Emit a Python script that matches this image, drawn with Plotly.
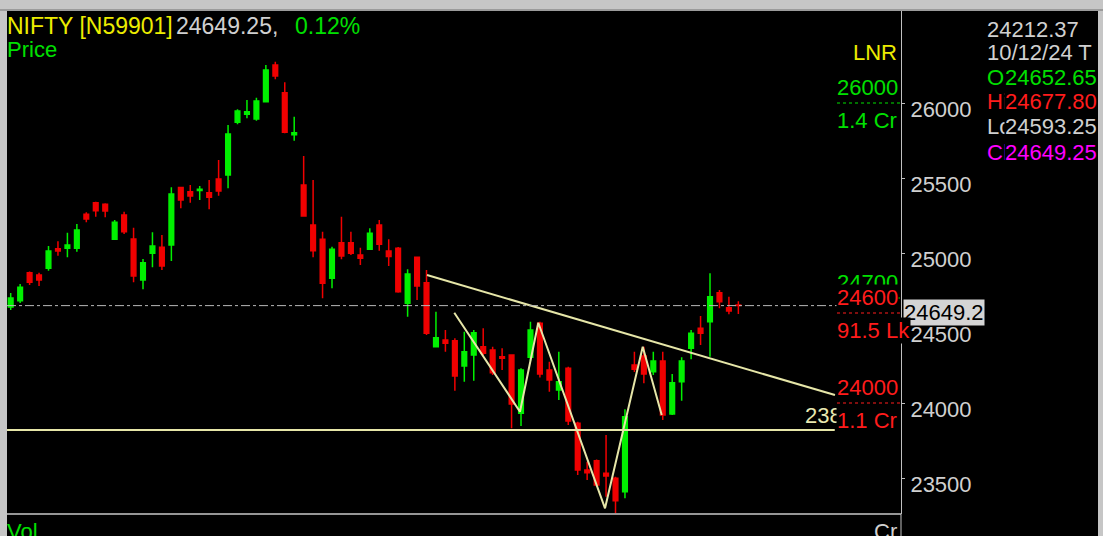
import plotly.graph_objects as go

# ---------------- data ----------------
opens = [24640, 24682, 24869, 24853, 24898, 25029, 25031, 25031, 25258, 25335,
         25325, 25092, 25253, 25093, 24820, 24998, 25038, 25053, 25436, 25409,
         25416, 25402, 25493, 25520, 25871, 25925, 25893, 26009, 26253, 26069,
         25789, 25453, 25187, 25091, 24831, 25069, 25069, 24987, 25025, 25187,
         25013, 25031, 24665, 24971, 24802, 24375, 24420, 24415, 24247, 24320,
         24375, 24353, 24309, 24320, 23931, 24305, 24531, 24220, 24087, 24231,
         23865, 23553, 23615, 23531, 23498, 23409, 24253, 24313, 24209, 24280,
         23927, 24142, 24365, 24498, 24542, 24735, 24635, 24652.65]
highs = [24733, 24793, 24876, 24869, 25047, 25078, 25135, 25193, 25271, 25342,
         25331, 25220, 25275, 25169, 24960, 25138, 25120, 25438, 25442, 25453,
         25447, 25487, 25620, 25853, 25958, 26020, 26035, 26253, 26275, 26138,
         25909, 25647, 25487, 25142, 25042, 25242, 25142, 25035, 25165, 25220,
         25091, 25040, 24891, 24976, 24887, 24609, 24487, 24431, 24475, 24487,
         24498, 24375, 24365, 24325, 24231, 24542, 24542, 24275, 24342, 24242,
         23875, 23609, 23624, 23787, 23509, 23958, 24342, 24375, 24342, 24342,
         24193, 24305, 24487, 24580, 24865, 24753, 24709, 24677.80]
lows = [24620, 24667, 24787, 24780, 24882, 24982, 24971, 25009, 25205, 25242,
        25238, 25087, 25127, 24805, 24758, 24905, 24887, 24947, 25298, 25335,
        25353, 25291, 25382, 25431, 25858, 25898, 25882, 26005, 26158, 25798,
        25749, 25242, 24971, 24698, 24765, 24958, 24987, 24920, 25020, 25015,
        24913, 24735, 24575, 24687, 24453, 24371, 24342, 24082, 24142, 24149,
        24320, 24187, 24220, 23831, 23847, 24280, 24170, 24075, 24020, 23853,
        23520, 23487, 23442, 23375, 23265, 23365, 24207, 24131, 24187, 23887,
        23920, 24015, 24291, 24387, 24309, 24631, 24591, 24593.25]
closes = [24700, 24771, 24805, 24820, 25013, 25013, 25053, 25153, 25227, 25282,
          25280, 25205, 25142, 24847, 24935, 25047, 24913, 25393, 25353, 25380,
          25425, 25371, 25413, 25793, 25947, 25942, 26013, 26220, 26180, 25805,
          25802, 25247, 25015, 24798, 25025, 24980, 24998, 24965, 25131, 25058,
          24976, 24742, 24860, 24780, 24465, 24435, 24398, 24180, 24342, 24469,
          24331, 24202, 24298, 23993, 24220, 24487, 24193, 24153, 24142, 23880,
          23553, 23535, 23453, 23513, 23349, 23909, 24225, 24193, 24280, 23920,
          24135, 24280, 24465, 24465, 24709, 24675, 24613, 24649.25]
bar_index = list(range(len(opens)))

y_ticks = [23500, 24000, 24500, 25000, 25500, 26000]
y_tick_labels = [str(v) for v in y_ticks]

# LNR levels (price level, label colour, volume text)
lnr_levels = [26000, 24700, 24600, 24000]
lnr_colors = ["#00e000", "#00e000", "#ff1c1c", "#ff1c1c"]
lnr_volumes = ["1.4 Cr", "", "91.5 Lk", "1.1 Cr"]

# hand-drawn study lines
support_level = 23820
support_x = [-0.39, 87.2]
trend_x = [44.05, 87.22]
trend_y = [24853, 24053]
w_x = [46.94, 53.89, 55.83, 62.89, 66.88, 68.89]
w_y = [24602, 23942, 24535, 23298, 24375, 23920]

symbol = "NIFTY [N59901]"
last_change = "0.12%"
info_value = "24212.37"
info_date = "10/12/24 T"

# ---------------- layout helpers ----------------
W, H = 1103, 536
PL, PR, PT, PB = 7, 901, 11, 514
FONT = "Liberation Sans"
GRAY = "#d0d0d0"
YEL = "#ecec00"
GRN = "#00e000"
RED = "#ff1c1c"
LINEC = "#e6e6a8"


def px(x):
    return (x - PL) / (PR - PL)


def py(y):
    return (PB - y) / (PB - PT)


fig = go.Figure()

fig.add_trace(go.Candlestick(
    x=bar_index, open=opens, high=highs, low=lows, close=closes,
    increasing=dict(line=dict(color="#00f000", width=1.5), fillcolor="#00f000"),
    decreasing=dict(line=dict(color="#f00000", width=1.5), fillcolor="#f00000"),
    whiskerwidth=0, hoverinfo="skip", showlegend=False,
))

fig.add_trace(go.Scatter(x=support_x, y=[support_level, support_level], mode="lines",
                         line=dict(color=LINEC, width=2), hoverinfo="skip", showlegend=False))
fig.add_trace(go.Scatter(x=trend_x, y=trend_y, mode="lines",
                         line=dict(color=LINEC, width=2), hoverinfo="skip", showlegend=False))
fig.add_trace(go.Scatter(x=w_x, y=w_y, mode="lines",
                         line=dict(color=LINEC, width=2), hoverinfo="skip", showlegend=False))

shapes = [
    # black window area
    dict(type="rect", xref="paper", yref="paper", x0=px(PL), x1=px(1098), y0=py(536), y1=py(PT),
         fillcolor="black", line=dict(width=0), layer="below"),
    # darker line of the frame at the top
    dict(type="line", xref="paper", yref="paper", x0=px(0), x1=px(W), y0=py(10), y1=py(10),
         line=dict(color="#8c8c8c", width=1.5), layer="below"),
    # separator between price and volume panes
    dict(type="line", xref="paper", yref="paper", x0=0, x1=1, y0=0, y1=0,
         line=dict(color="#c8c8c8", width=1.5)),
    # axis line through the volume pane
    dict(type="line", xref="paper", yref="paper", x0=1, x1=1, y0=py(536), y1=0,
         line=dict(color="#c0c0c0", width=1)),
    # last price dash-dot line
    dict(type="line", xref="paper", yref="y", x0=0, x1=1, y0=closes[-1], y1=closes[-1],
         line=dict(color="#b8b8b8", width=1, dash="dashdot")),
]
for lv, col in zip(lnr_levels, lnr_colors):
    shapes.append(dict(type="line", xref="paper", yref="y", x0=px(837), x1=1, y0=lv, y1=lv,
                       line=dict(color=col, width=1, dash="dot")))

ann = []


def text(t, x, y, color, xanchor="left", yref="paper", yshift=0, bg=None, size=22, xref="paper"):
    d = dict(text=t, x=x, y=y, xref=xref, yref=yref, xanchor=xanchor, yanchor="middle",
             showarrow=False, yshift=yshift, font=dict(family=FONT, size=size, color=color),
             borderpad=0)
    if bg:
        d["bgcolor"] = bg
    ann.append(d)


# title line
text(symbol, px(6), py(26), YEL, size=23)
text(f"{closes[-1]:.2f},", px(175), py(26), GRAY, size=23)
text(last_change, px(294), py(26), GRN, size=23)
text("Price", px(6), py(50), GRN)

# LNR labels
text("LNR", px(898), py(52), YEL, xanchor="right")
for lv, col, vol in zip(lnr_levels, lnr_colors, lnr_volumes):
    text(str(lv), px(836), lv, col, yref="y", yshift=16, bg="black")

# last price box on the axis
last_trunc = int(closes[-1] * 10) / 10
text(f"{last_trunc:.1f}", px(903), closes[-1], "black", yref="y", yshift=-7, bg="#d4d4d4")

# support label, partly covered by the volume label
text(f"{support_level}", px(804), py(415), "#e8e8b0")

for lv, col, vol in zip(lnr_levels, lnr_colors, lnr_volumes):
    if vol:
        text(vol, px(836), lv, col, yref="y", yshift=-17, bg="black")

# right information panel
text(info_value, px(986), py(29), GRAY)
text(info_date, px(986), py(53), GRAY)
row_names = ["Op", "Hi", "Lo", "Cl"]
row_vals = [opens[-1], highs[-1], lows[-1], closes[-1]]
row_cols = [GRN, RED, GRAY, "#ff00ff"]
for k, (nm, val, col) in enumerate(zip(row_names, row_vals, row_cols)):
    yy = 77 + 25 * k
    text(nm, px(986), py(yy), col)
    text(f"{val:.2f}", px(1004), py(yy), col, bg="black")

# volume pane labels
text("Vol", px(6), py(531), GRN)
text("Cr", px(898), py(531), GRAY, xanchor="right")

fig.update_layout(
    width=W, height=H,
    margin=dict(l=PL, r=W - PR, t=PT, b=H - PB, pad=0),
    paper_bgcolor="#c6c6c6", plot_bgcolor="black",
    showlegend=False, hovermode=False,
    shapes=shapes, annotations=ann,
    xaxis=dict(range=[-0.392, 94.21], visible=False, rangeslider=dict(visible=False),
               showgrid=False, zeroline=False),
    yaxis=dict(range=[23260, 26613.3], side="right", tickvals=y_ticks, ticktext=y_tick_labels,
               tickfont=dict(family=FONT, size=22, color=GRAY), ticks="outside", ticklen=3,
               tickcolor="#c0c0c0", showline=True, linecolor="#c0c0c0", linewidth=1,
               showgrid=False, zeroline=False, ticklabelshift=6, ticklabelstandoff=1),
)

fig.write_html("out.html", config={"displayModeBar": False},
               post_script="document.body.style.margin='0px';document.body.style.overflow='hidden';")
